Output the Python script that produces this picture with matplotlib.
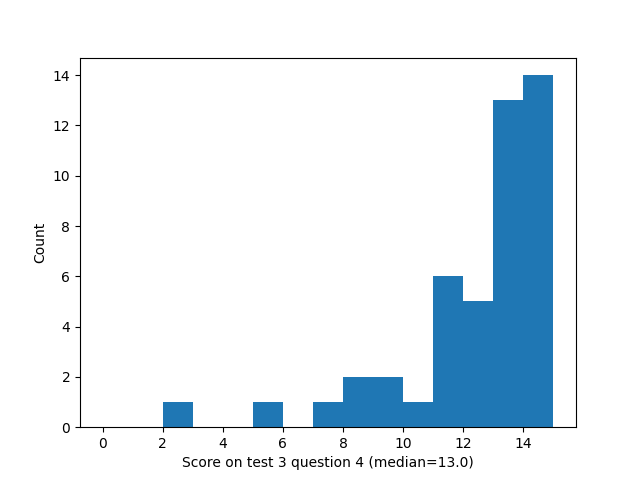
import numpy as np
import matplotlib
matplotlib.use("Agg")
import matplotlib.pyplot as plt

# scores 0..14, one bin per score
scores = np.arange(0, 15)
counts = [0, 0, 1, 0, 0, 1, 0, 1, 2, 2, 1, 6, 5, 13, 14]
bin_edges = np.arange(0, 16)

plt.figure(figsize=(6.4, 4.8), dpi=100)
plt.hist(scores, bins=bin_edges, weights=counts)
plt.xlabel("Score on test 3 question 4 (median=13.0)")
plt.ylabel("Count")
plt.savefig("out.png")
